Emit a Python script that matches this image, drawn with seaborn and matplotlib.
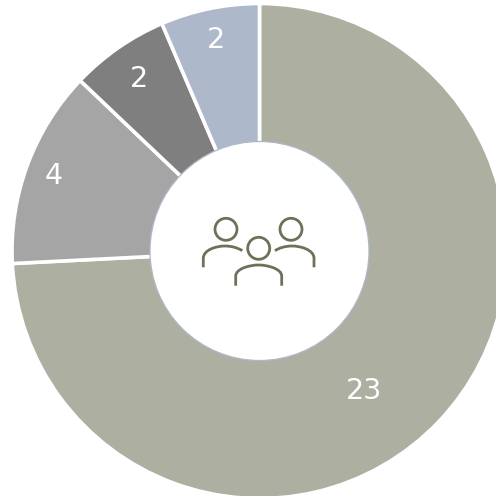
import numpy as np
import matplotlib
matplotlib.use("Agg")
import matplotlib.pyplot as plt
import seaborn as sns
from matplotlib.patches import Circle, PathPatch
from matplotlib.path import Path

values = [23, 4, 2, 2]
colors = ["#ADAFA1", "#A5A5A5", "#7F7F7F", "#ADB8CA"]
# how far out each label sits (pixels) and how much it was dragged off the slice middle
label_radius = [174, 220, 211, 216]
label_shift = [9.5, 0, 0, 0]

sns.set_theme(style="white")
plt.rcParams["font.family"] = ["DejaVu Sans"]

cx, cy = 259.5, 245
outer = 247.5
inner = 107.5
icon_color = "#6E7058"

fig, ax = plt.subplots(figsize=(4.96, 4.96), dpi=100)
fig.subplots_adjust(0, 0, 1, 1)

wedges, _ = ax.pie(values, colors=sns.color_palette(colors), startangle=90, counterclock=False,
                   center=(cx, cy), radius=outer, frame=True,
                   wedgeprops=dict(width=outer - inner, edgecolor="white", linewidth=2.6))
ax.set_xlim(0, 496)
ax.set_ylim(0, 496)
ax.set_aspect("equal")
ax.axis("off")

ax.add_patch(Circle((cx, cy), 109.5, facecolor="white", edgecolor="#ADB8CA", linewidth=0.9, zorder=3))

for w, v, r, s in zip(wedges, values, label_radius, label_shift):
    a = np.deg2rad((w.theta1 + w.theta2) / 2 - s)
    ax.text(cx + r * np.cos(a), cy + r * np.sin(a) - 1, str(v), color="white", fontsize=20.5,
            ha="center", va="center", zorder=4)


# icon, traced in image pixels (y down)
def py(y):
    return 496 - y


for x, y in [(226, 229.3), (291, 229.3), (258.7, 248.3)]:
    ax.add_patch(Circle((x, py(y)), 11, fill=False, edgecolor=icon_color, linewidth=2, zorder=5))

bodies = [
    [(203.3, 267.3), (203.3, 258.3), (203.3, 250), (216, 246), (225, 246), (232, 246), (238, 248), (242.3, 250.7)],
    [(314, 267.3), (314, 258.3), (314, 250), (301, 246), (292, 246), (285, 246), (279, 248), (275, 250.7)],
]
for b in bodies:
    verts = [(x, py(y)) for x, y in b]
    codes = [Path.MOVETO, Path.LINETO, Path.CURVE4, Path.CURVE4, Path.CURVE4, Path.CURVE4, Path.CURVE4, Path.CURVE4]
    ax.add_patch(PathPatch(Path(verts, codes), fill=False, edgecolor=icon_color, linewidth=2, zorder=5))

mid = [(235.7, 285.7), (235.7, 276), (235.7, 269), (249, 265), (258.7, 265), (268, 265), (281.7, 269), (281.7, 276), (281.7, 285.7)]
mid_codes = [Path.MOVETO, Path.LINETO, Path.CURVE4, Path.CURVE4, Path.CURVE4, Path.CURVE4, Path.CURVE4, Path.CURVE4, Path.LINETO]
ax.add_patch(PathPatch(Path([(x, py(y)) for x, y in mid], mid_codes), fill=False,
                       edgecolor=icon_color, linewidth=2, zorder=5))

fig.savefig("out.png", dpi=100)
